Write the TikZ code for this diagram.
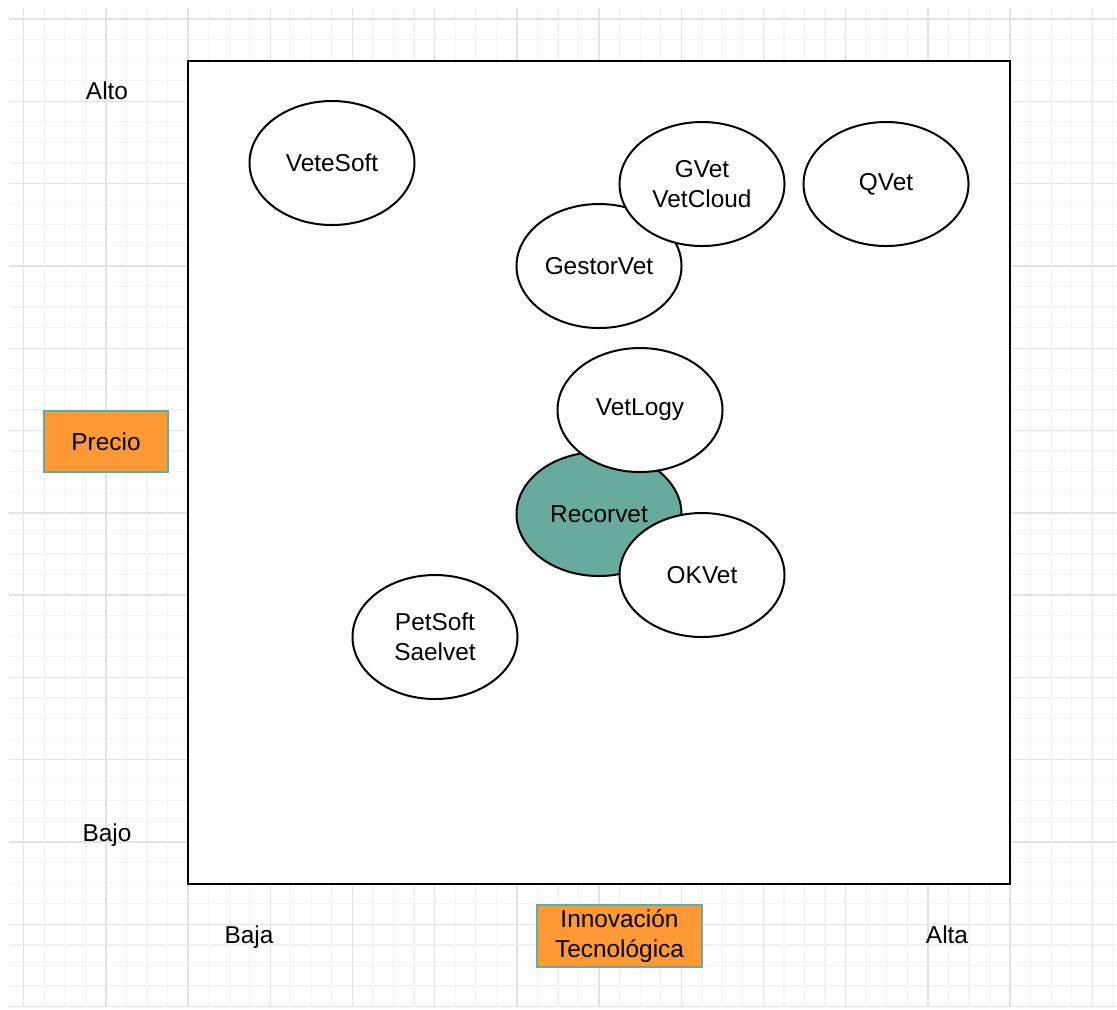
\documentclass[tikz,border=0pt]{standalone}
\usepackage{fontspec}
\setmainfont{Liberation Sans}
\usepackage{tikz}
\usetikzlibrary{shapes.geometric}

\begin{document}
\begin{tikzpicture}[x=0.5pt,y=-0.5pt,
  marca/.style={ellipse,draw=black,fill=white,line width=1pt,minimum width=82.5pt,minimum height=62pt,inner sep=0pt,align=center,font=\fontsize{12.2}{15}\selectfont},
  eje/.style={rectangle,draw=ejeBorde,fill=ejeFondo,line width=0.8pt,inner sep=0pt,align=center,font=\fontsize{12.2}{15}\selectfont},
  nivel/.style={inner sep=0pt,anchor=base,font=\fontsize{12.2}{15}\selectfont}]
\definecolor{gridMenor}{HTML}{F3F3F3}
\definecolor{gridMayor}{HTML}{E3E3E3}
\definecolor{ejeFondo}{HTML}{FF9933}
\definecolor{ejeBorde}{HTML}{67AB9F}
\definecolor{recorFondo}{HTML}{67AB9F}
\useasboundingbox (0,0) rectangle (1117,1009);
\fill[white] (0,0) rectangle (1117,1009);
% cuadricula de fondo
\foreach \k in {0,...,53} {
  \draw[gridMenor,line width=0.6pt] ({23.6+20.55*\k},8) -- ({23.6+20.55*\k},1007);
}
\foreach \k in {0,...,48} {
  \draw[gridMenor,line width=0.6pt] (9,{19+20.575*\k}) -- (1117,{19+20.575*\k});
}
\foreach \k in {0,...,13} {
  \draw[gridMayor,line width=0.7pt] ({23.6+82.2*\k},8) -- ({23.6+82.2*\k},1007);
}
\foreach \k in {0,...,12} {
  \draw[gridMayor,line width=0.7pt] (9,{19+82.3*\k}) -- (1117,{19+82.3*\k});
}
% cuadrante
\draw[fill=white,line width=1.1pt] (188,61) rectangle (1010,884);
% ejes
\node[eje,minimum width=62pt,minimum height=30.5pt] (precio) at (106,441.5) {Precio};
\node[eje,minimum width=82.5pt,minimum height=31pt] (innovacion) at (619.5,936) {Innovación\\Tecnológica};
\node[nivel] (alto) at (107,99) {Alto};
\node[nivel] (bajo) at (107,841) {Bajo};
\node[nivel] (baja) at (249,943) {Baja};
\node[nivel] (alta) at (947,943) {Alta};
% competidores
\node[marca] (vetesoft) at (332,163) {VeteSoft};
\node[marca] (gestorvet) at (599,266) {GestorVet};
\node[marca] (gvet) at (702,184) {GVet\\VetCloud};
\node[marca] (qvet) at (886,184) {QVet};
\node[marca,fill=recorFondo] (recorvet) at (599,514) {Recorvet};
\node[marca] (vetlogy) at (640,410) {VetLogy};
\node[marca] (okvet) at (702,575) {OKVet};
\node[marca] (petsoft) at (435,637) {PetSoft\\Saelvet};
\end{tikzpicture}
\end{document}
